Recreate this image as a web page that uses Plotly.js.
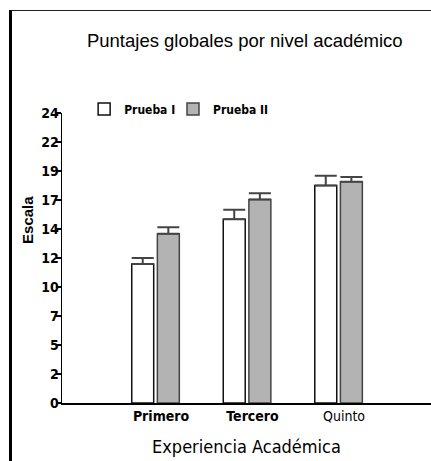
<!DOCTYPE html>
<html><head><meta charset="utf-8">
<script src="https://cdn.plot.ly/plotly-3.0.1.min.js"></script>
<style>
html,body{margin:0;padding:0;background:#fff;}
#wrap{position:relative;width:431px;height:461px;overflow:hidden;}
#chart{position:absolute;left:0;top:0;width:431px;height:461px;}
#frame{position:absolute;left:9px;top:10px;width:430px;height:460px;border-top:1.5px solid #222;border-left:3px solid #000;pointer-events:none;}
</style></head>
<body><div id="wrap"><div id="chart"></div><div id="frame"></div></div>
<script>
const categories = ["Primero", "Tercero", "Quinto"];
const tickLabels = ["<b>Primero</b>", "<b>Tercero</b>", "Quinto"];
const seriesNames = ["Prueba I", "Prueba II"];
const pruebaI = [11.5, 15.2, 18.0];
const pruebaIErr = [0.5, 0.8, 0.8];
const pruebaII = [14.0, 16.85, 18.3];
const pruebaIIErr = [0.55, 0.5, 0.4];
const noErr = [0, 0, 0];
const yTicks = [0, 2.4, 4.8, 7.2, 9.6, 12, 14.4, 16.8, 19.2, 21.6, 24];

const pos = categories.map((c, i) => i);
const narrow = '"Liberation Sans Narrow", "DejaVu Sans Condensed", Arial, sans-serif';
const arial = '"Liberation Sans", Arial, sans-serif';

const traces = [
  {type:'bar', name:seriesNames[0], x:pos, y:pruebaI, offset:-0.32, width:0.24, legend:'legend',
   marker:{color:'#ffffff', line:{color:'#111', width:1.5}},
   error_y:{type:'data', symmetric:false, array:pruebaIErr, arrayminus:noErr, visible:true, color:'#444', thickness:2, width:11}},
  {type:'bar', name:seriesNames[1], x:pos, y:pruebaII, offset:-0.04, width:0.24, legend:'legend2',
   marker:{color:'#b3b3b3', line:{color:'#444', width:1.5}},
   error_y:{type:'data', symmetric:false, array:pruebaIIErr, arrayminus:noErr, visible:true, color:'#444', thickness:2, width:11}}
];

const legendFont = {family:narrow, size:12, color:'#000', weight:'bold'};
const layout = {
  width:431, height:461,
  margin:{l:62, r:0, t:113, b:58, pad:0},
  paper_bgcolor:'#fff', plot_bgcolor:'#fff',
  showlegend:true,
  title:{text:'Puntajes globales por nivel académico', font:{family:arial, size:18.5, color:'#000'},
         x:0.568, xanchor:'center', y:0.913, yanchor:'middle'},
  legend:{orientation:'h', x:0.06, y:1.014, xanchor:'left', yanchor:'middle',
          font:legendFont, bgcolor:'rgba(0,0,0,0)', itemwidth:30},
  legend2:{orientation:'h', x:0.3008, y:1.014, xanchor:'left', yanchor:'middle',
          font:legendFont, bgcolor:'rgba(0,0,0,0)', itemwidth:30},
  annotations:[{text:'<b>Escala</b>', xref:'paper', yref:'paper', x:-0.095, y:0.631, xanchor:'center', yanchor:'middle',
                textangle:-90, showarrow:false, font:{family:arial, size:15, color:'#000'}}],
  xaxis:{range:[-1.082, 2.95], tickvals:pos, ticktext:tickLabels, showgrid:false, zeroline:false,
         showline:true, linecolor:'#000', linewidth:1.5, ticks:'',
         tickfont:{family:narrow, size:14, color:'#000'},
         title:{text:'Experiencia Académica', font:{family:narrow, size:18, color:'#000'}, standoff:17}},
  yaxis:{range:[0,24], tickvals:yTicks, tickformat:'.0f', showgrid:false, zeroline:false,
         showline:true, linecolor:'#000', linewidth:1.5, ticks:'outside', ticklen:5, tickcolor:'#000', tickwidth:1.2,
         ticklabelstandoff:-6,
         tickfont:{family:narrow, size:14, color:'#000', weight:'bold'}},
  bargap:0
};
Plotly.newPlot('chart', traces, layout, {displayModeBar:false, staticPlot:true});
</script></body></html>
